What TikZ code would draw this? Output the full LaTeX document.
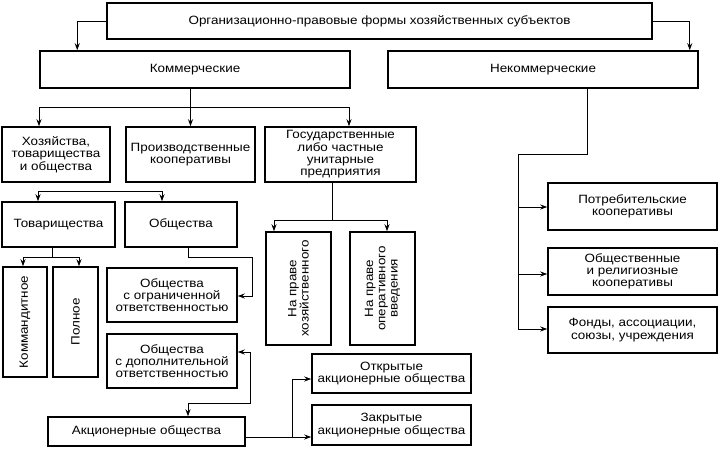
\documentclass[tikz,border=0pt]{standalone}
\usepackage{fontspec}
\setmainfont{Liberation Sans}[FakeStretch=1.12]
\usetikzlibrary{arrows.meta}
\begin{document}
\begin{tikzpicture}[x=1pt,y=-1pt,
  box/.style={draw=black, line width=1.5pt, rectangle, inner sep=1pt, align=center,
    font=\fontsize{12}{12.3}\selectfont},
  conn/.style={line width=0.9pt},
  arr/.style={conn, -{Stealth[length=7pt,width=5pt]}},
  darr/.style={conn, {Stealth[length=7pt,width=5pt]}-{Stealth[length=7pt,width=5pt]}}]
\useasboundingbox[fill=white] (0,0) rectangle (720,448);
% boxes
\node[box, minimum width=545pt, minimum height=36pt] (top) at (379.5,21) {Организационно-правовые формы хозяйственных субъектов};
\node[box, minimum width=310pt, minimum height=37pt] (kom) at (195,69.5) {Коммерческие};
\node[box, minimum width=310pt, minimum height=37pt] (nekom) at (543,69.5) {Некоммерческие};
\node[box, minimum width=108pt, minimum height=55pt] (hoz) at (56,154.5) {Хозяйства,\\товарищества\\и общества};
\node[box, minimum width=129pt, minimum height=55pt] (proizv) at (190.5,154.5) {Производственные\\кооперативы};
\node[box, minimum width=151pt, minimum height=55pt] (gos) at (340.5,154.5) {Государственные\\либо частные\\унитарные\\предприятия};
\node[box, minimum width=113pt, minimum height=45pt] (tov) at (58.5,224.5) {Товарищества};
\node[box, minimum width=112pt, minimum height=45pt] (obsh) at (181,224.5) {Общества};
\node[box, rotate=90, minimum width=110pt, minimum height=44pt] (komand) at (25,322) {Коммандитное};
\node[box, rotate=90, minimum width=110pt, minimum height=45pt] (poln) at (75.5,322) {Полное};
\node[box, minimum width=130pt, minimum height=54pt] (ooo) at (172,295) {Общества\\с ограниченной\\ответственностью};
\node[box, minimum width=130pt, minimum height=54pt] (odo) at (172,361) {Общества\\с дополнительной\\ответственностью};
\node[box, minimum width=197pt, minimum height=29pt] (ao) at (146.5,431.5) {Акционерные общества};
\node[box, rotate=90, minimum width=113pt, minimum height=65pt] (pxoz) at (298.5,288.5) {На праве\\хозяйственного};
\node[box, rotate=90, minimum width=113pt, minimum height=65pt] (poper) at (382.5,288.5) {На праве\\оперативного\\введения};
\node[box, minimum width=159pt, minimum height=39pt] (otkr) at (391.5,373.5) {Открытые\\акционерные общества};
\node[box, minimum width=159pt, minimum height=40pt] (zakr) at (391.5,425) {Закрытые\\акционерные общества};
\node[box, minimum width=169pt, minimum height=47pt] (potr) at (632.5,206.5) {Потребительские\\кооперативы};
\node[box, minimum width=169pt, minimum height=47pt] (obrel) at (632.5,271.5) {Общественные\\и религиозные\\кооперативы};
\node[box, minimum width=169pt, minimum height=46pt] (fond) at (632.5,330) {Фонды, ассоциации,\\союзы, учреждения};
% helper coordinates
\coordinate (k1) at (39,107);
\coordinate (k2) at (349,107);
\coordinate (h1) at (38,191);
\coordinate (h2) at (162,191);
\coordinate (g0) at (332,182);
\coordinate (g1) at (274,220);
\coordinate (g2) at (387,220);
\coordinate (t0) at (52,247);
\coordinate (t1) at (23,257);
\coordinate (t2) at (79,257);
\coordinate (o0) at (188,247);
\coordinate (o1) at (252,257);
\coordinate (d1) at (250,352);
\coordinate (d2) at (188,403);
\coordinate (a1) at (245,437);
\coordinate (a2) at (292,437);
\coordinate (a3) at (292,379);
\coordinate (n0) at (587,88);
\coordinate (n1) at (518,154);
\coordinate (n2) at (518,207);
\coordinate (n3) at (518,274);
\coordinate (n4) at (518,329);
% connectors
\draw[arr] (top.west) -| ([xshift=38pt]kom.north west);
\draw[arr] (top.east) -| ([xshift=-9pt]nekom.north east);
\draw[arr] (proizv.north |- kom.south) -- (proizv.north);
\draw[conn] (k1) -- (k2);
\draw[arr] (k1) -- (k1 |- hoz.north);
\draw[arr] (k2) -- (k2 |- gos.north);
\draw[conn] (h1) -- (h2);
\draw[arr] (h1) -- (h1 |- tov.north);
\draw[arr] (h2) -- (h2 |- obsh.north);
\draw[conn] (g0) -- (g0 |- g1);
\draw[conn] (g1) -- (g2);
\draw[arr] (g1) -- (g1 |- pxoz.east);
\draw[arr] (g2) -- (g2 |- poper.east);
\draw[conn] (t0) -- (t0 |- t1);
\draw[conn] (t1) -- (t2);
\draw[arr] (t1) -- (t1 |- komand.east);
\draw[arr] (t2) -- (t2 |- poln.east);
\draw[arr] (o0) |- (o1) |- ([yshift=-1pt]ooo.east);
\draw[darr] (odo.east |- d1) -| (d1 |- d2) -| (d2 |- ao.north);
\draw[arr] (a1) -- (a1 -| zakr.west);
\draw[arr] (a2) |- (a3 -| otkr.west);
\draw[conn] (n0) |- (n1) -- (n4);
\draw[arr] (n2) -- (n2 -| potr.west);
\draw[arr] (n3) -- (n3 -| obrel.west);
\draw[arr] (n4) -- (n4 -| fond.west);
\end{tikzpicture}
\end{document}
